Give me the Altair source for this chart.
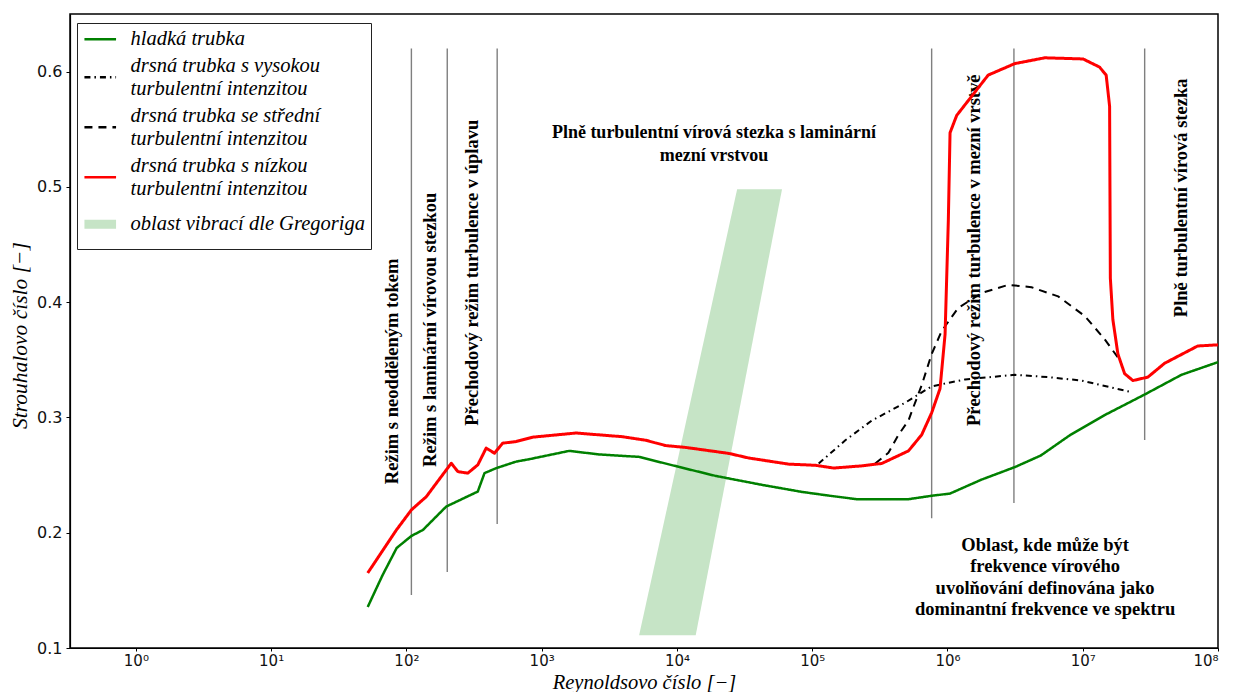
import altair as alt
import pandas as pd

# ---------------- data ----------------
# smooth tube (green)
smooth_re = [51.8, 58.3, 66.8, 84.8, 108.9, 132.5, 197, 337, 378, 461,
             648, 811, 1600, 2665, 5255, 10350, 19300, 42650, 84100, 132400,
             213800, 515000, 759000, 1045000, 1780000, 3160000, 4900000, 8130000, 14500000, 28800000,
             53700000, 100000000]
smooth_st = [0.1356, 0.1486, 0.1634, 0.1868, 0.1972, 0.2024, 0.2227, 0.2357, 0.2517, 0.2560,
             0.2617, 0.2638, 0.2710, 0.2679, 0.2658, 0.2571, 0.2493, 0.2415, 0.2354, 0.2322,
             0.2291, 0.2291, 0.232, 0.234, 0.246, 0.257, 0.267, 0.285, 0.302, 0.320,
             0.337, 0.348]

# rough tube, high turbulence intensity (dash-dot)
high_re = [111700, 175800, 276000, 487000, 764000, 1350000, 3150000, 5540000, 9770000, 22800000]
high_st = [0.260, 0.2802, 0.2973, 0.3128, 0.327, 0.333, 0.337, 0.335, 0.332, 0.322]

# rough tube, medium turbulence intensity (dashed)
mid_re = [292400, 366000, 434000, 515000, 544000, 645000, 764000, 906000, 1200000, 1790000,
          2810000, 4180000, 6580000, 10350000, 14500000, 18200000]
mid_st = [0.260, 0.2694, 0.2849, 0.2973, 0.305, 0.328, 0.355, 0.375, 0.395, 0.408,
          0.415, 0.413, 0.405, 0.388, 0.368, 0.352]

# rough tube, low turbulence intensity (red)
low_re = [51.8, 63.5, 84.4, 108.9, 140.4, 214.7, 240.3, 284.6, 337.4, 388.8,
          448, 515, 648, 859, 1795, 3955, 5888, 8266, 11610, 24210,
          34030, 67100, 105600, 144000, 232900, 327000, 515000, 645000, 764000, 881000,
          960000, 1015000, 1045000, 1170000, 2000000, 3150000, 5250000, 10050000, 13300000, 14900000,
          15800000, 16000000, 16700000, 18200000, 20400000, 23500000, 30300000, 40300000, 70800000, 100000000]
low_st = [0.1651, 0.1807, 0.2024, 0.2198, 0.2313, 0.2603, 0.2530, 0.2517, 0.2589, 0.2734,
          0.2690, 0.2777, 0.2791, 0.2829, 0.2865, 0.2833, 0.2802, 0.2756, 0.2740, 0.2688,
          0.2648, 0.2595, 0.2585, 0.2561, 0.2580, 0.2601, 0.2710, 0.285, 0.304, 0.325,
          0.372, 0.471, 0.547, 0.562, 0.597, 0.607, 0.612, 0.611, 0.604, 0.597,
          0.570, 0.421, 0.385, 0.355, 0.338, 0.332, 0.335, 0.347, 0.362, 0.363]

# Gregorig vibration band (parallelogram)
band_st = [0.111, 0.498]
band_re_left = [5255, 27870]
band_re_right = [13770, 59840]

# regime boundary lines
bound_re = [108.9, 200.5, 469, 764000, 3100000, 28700000]
bound_top = [0.620, 0.620, 0.620, 0.620, 0.620, 0.620]
bound_bottom = [0.146, 0.166, 0.2076, 0.2126, 0.2258, 0.2805]

# rotated regime labels
rot_text = ["Režim s neodděleným tokem",
            "Režim s laminární vírovou stezkou",
            "Přechodový režim turbulence v úplavu",
            "Přechodový režim turbulence v mezní vrstvě",
            "Plně turbulentní vírová stezka"]
rot_re = [77.9, 148.6, 303, 1580000, 53100000]
rot_st = [0.340, 0.376, 0.4255, 0.445, 0.4905]

# horizontal labels (position of first line)
top_text = ["Plně turbulentní vírová stezka s laminární\nmezní vrstvou"]
top_re = [18790]
top_st = [0.5465]
low_text = ["Oblast, kde může být\nfrekvence vírového\nuvolňování definována jako\ndominantní frekvence ve spektru"]
low_text_re = [5270000]
low_text_st = [0.1894]

# legend / series
series_names = ["hladká trubka",
                "drsná trubka s vysokou| turbulentní intenzitou",
                "drsná trubka se střední| turbulentní intenzitou",
                "drsná trubka s nízkou| turbulentní intenzitou",
                "oblast vibrací dle Gregoriga"]
series_colors = ["#008000", "#000000", "#000000", "#ff0000", "#c6e4c6"]
series_dashes = [[1, 0], [6, 4, 1.5, 4], [8, 6], [1, 0], [1, 0]]
series_widths = [2.5, 2.0, 2.0, 3.0]

x_ticks = [1, 10, 100, 1000, 10000, 100000, 1000000, 10000000, 100000000]
y_ticks = [0.1, 0.2, 0.3, 0.4, 0.5, 0.6]

# ---------------- tables ----------------
rows = []
for name, xs, ys, w in zip(series_names[:4], [smooth_re, high_re, mid_re, low_re],
                           [smooth_st, high_st, mid_st, low_st], series_widths):
    for a, b in zip(xs, ys):
        rows.append({"x": a, "y": b, "series": name, "lw": w})
lines_df = pd.DataFrame(rows)

band_df = pd.DataFrame({"y": band_st, "xl": band_re_left, "xr": band_re_right})
bound_df = pd.DataFrame({"x": bound_re, "y": bound_bottom, "y2": bound_top})
rot_df = pd.DataFrame({"x": rot_re, "y": rot_st, "t": rot_text})
top_df = pd.DataFrame({"x": top_re, "y": top_st, "t": top_text})
lowt_df = pd.DataFrame({"x": low_text_re, "y": low_text_st, "t": low_text})

# ---------------- scales & axes ----------------
xscale = alt.Scale(type="log", domain=[0.326, 1e8], nice=False)
yscale = alt.Scale(domain=[0.1, 0.65], nice=False, zero=False)

sup = "['\u2070','\u00b9','\u00b2','\u00b3','\u2074','\u2075','\u2076','\u2077','\u2078']"
xaxis = alt.Axis(values=x_ticks, labelExpr="'10' + " + sup + "[round(log(datum.value)/LN10)]",
                 title="Reynoldsovo číslo [−]", titleFont="Liberation Serif", titleFontStyle="italic",
                 titleFontWeight="normal", titleFontSize=20.5, titleColor="black",
                 titleY=40, titleBaseline="alphabetic", labelFlush=True,
                 labelFont="DejaVu Sans", labelFontSize=15, labelColor="#111",
                 labelPadding=2, tickSize=3, grid=False)
yaxis = alt.Axis(values=y_ticks, format=".1f",
                 title="Strouhalovo číslo [−]", titleFont="Liberation Serif", titleFontStyle="italic",
                 titleFontWeight="normal", titleFontSize=21.5, titleColor="black",
                 titleX=-50, titleY=321, titleAngle=270, titleAlign="center", titleBaseline="middle",
                 labelFont="DejaVu Sans", labelFontSize=16, labelColor="#111",
                 labelPadding=4, tickSize=4, grid=False)


def X(f="x"):
    return alt.X(f + ":Q", scale=xscale, axis=xaxis)


def Y(f="y"):
    return alt.Y(f + ":Q", scale=yscale, axis=yaxis)


band = alt.Chart(band_df).mark_area(orient="horizontal", color="#c6e4c6").encode(
    y=Y("y"), x=X("xl"), x2=alt.X2("xr:Q"))

bounds = alt.Chart(bound_df).mark_rule(color="#7f7f7f", strokeWidth=1.4).encode(
    x=X("x"), y=Y("y"), y2=alt.Y2("y2:Q"))

txt_style = dict(font="Liberation Serif", fontWeight="bold", fontSize=18.5, color="black",
                 align="center", baseline="middle")
rot = alt.Chart(rot_df).mark_text(angle=270, **txt_style).encode(x=X("x"), y=Y("y"), text="t:N")
top = alt.Chart(top_df).mark_text(lineBreak="\n", lineHeight=23,
                                  **dict(txt_style, fontSize=18)).encode(
    x=X("x"), y=Y("y"), text="t:N")
lowt = alt.Chart(lowt_df).mark_text(lineBreak="\n", lineHeight=21.5, **txt_style).encode(
    x=X("x"), y=Y("y"), text="t:N")

leg = alt.Legend(title=None, labelExpr="split(datum.label, '|')",
                 labelBaseline=alt.ExprRef(
                     expr="indexof(datum.label, '|') >= 0 ? 'line-bottom' : 'middle'"),
                 symbolStrokeWidth=alt.ExprRef(
                     expr="datum.value == 'oblast vibrací dle Gregoriga' ? 9 : 2.5"))

lines = alt.Chart(lines_df).mark_line(strokeCap="butt", strokeJoin="round").encode(
    x=X("x"), y=Y("y"),
    color=alt.Color("series:N", scale=alt.Scale(domain=series_names, range=series_colors), legend=leg),
    strokeDash=alt.StrokeDash("series:N", scale=alt.Scale(domain=series_names, range=series_dashes),
                              legend=leg),
    strokeWidth=alt.StrokeWidth("lw:Q", scale=None),
)

chart = alt.layer(band, bounds, rot, top, lowt, lines).properties(
    width=1148, height=634,
    padding={"left": 62, "top": 6, "right": 8, "bottom": 44},
    autosize=alt.AutoSizeParams(type="none"),
).configure_view(stroke="black", strokeWidth=1.5).configure_axis(
    domainColor="black", tickColor="black", domainWidth=1.2
).configure_legend(
    orient="none", legendX=7, legendY=9, fillColor="white", strokeColor="#222",
    padding=6, symbolOffset=7, symbolType="stroke", symbolSize=1000,
    labelFont="Liberation Serif", labelFontStyle="italic", labelFontSize=20.5, labelColor="black",
    labelOffset=20, labelLimit=500, rowPadding=6, cornerRadius=0
)

chart.save("out.html", embed_options={"renderer": "svg", "actions": False})
